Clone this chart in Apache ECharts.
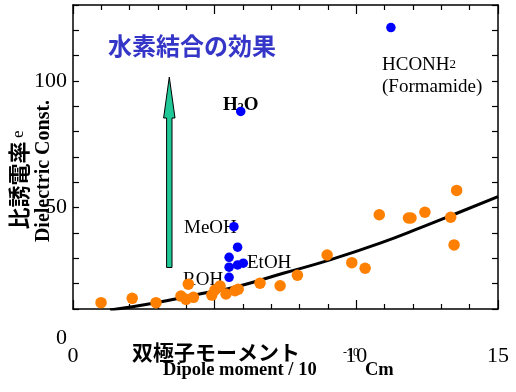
<!DOCTYPE html>
<html><head><meta charset="utf-8">
<script src="https://cdn.jsdelivr.net/npm/echarts@6/dist/echarts.min.js"></script>
<style>html,body{margin:0;padding:0;background:#fff}#c{width:516px;height:392px}</style>
</head><body><div id="c"></div>
<script>
// tick labels shown on the axes
const xTickLabels = ['0', '10', '15'];
const yTickLabels = ['50', '100'];
// hydrogen-bonding liquids (blue): [dipole moment, dielectric constant]
const hbondPoints = [
  [11.22, 121.1], [5.92, 88.0], [5.68, 42.5], [5.81, 34.4], [5.51, 30.4],
  [5.51, 26.5], [5.81, 27.4], [6.01, 28.1], [5.51, 22.5]
];
// other polar liquids (orange)
const otherPoints = [
  [0.99, 12.5], [2.09, 14.2], [2.93, 12.5], [3.81, 15.1], [3.99, 13.8],
  [4.25, 14.6], [4.07, 19.8], [4.90, 15.5], [5.01, 17.5], [5.19, 19.1],
  [5.40, 15.9], [5.72, 17.2], [5.83, 17.8], [6.60, 20.2], [7.31, 19.2],
  [7.92, 23.3], [8.97, 31.3], [9.84, 28.3], [10.31, 26.1], [10.81, 47.2],
  [11.84, 45.9], [11.93, 45.9], [12.42, 48.2], [13.33, 46.2], [13.45, 35.3],
  [13.54, 56.8]
];
// trend curve
const trendCurve = [
  [1.31, 9.6], [2.83, 12.3], [4.60, 16.2], [5.78, 18.8], [7.42, 24.1],
  [9.07, 29.4], [10.84, 36.0], [12.36, 42.5], [13.42, 47.2], [15.0, 54.4]
];

const serif = '"Liberation Serif", "Times New Roman", serif';
const cjk = '"Noto Sans CJK JP", sans-serif';

const chart = echarts.init(document.getElementById('c'), null, {renderer: 'canvas'});

const axisCommon = {
  type: 'value',
  axisLine: {show: true, onZero: false, lineStyle: {color: '#000', width: 1.5}},
  splitLine: {show: false},
  minorSplitLine: {show: false}
};

chart.setOption({
  animation: false,
  backgroundColor: '#fff',
  grid: {left: 73, right: 18, top: 5, bottom: 83},
  xAxis: [
    Object.assign({}, axisCommon, {
      min: 0, max: 15, interval: 5, position: 'bottom',
      axisTick: {inside: true, length: 9, lineStyle: {color: '#000', width: 1.2}},
      minorTick: {show: true, splitNumber: 5, length: 5, lineStyle: {color: '#000', width: 1.2}},
      axisLabel: {
        margin: 36, color: '#000', fontSize: 22, fontFamily: serif,
        formatter: v => xTickLabels.includes(String(v)) ? String(v) : ''
      }
    }),
    Object.assign({}, axisCommon, {
      min: 0, max: 15, interval: 5, position: 'top',
      axisTick: {inside: true, length: 9, lineStyle: {color: '#000', width: 1.2}},
      minorTick: {show: true, splitNumber: 5, length: 5, lineStyle: {color: '#000', width: 1.2}},
      axisLabel: {show: false}
    })
  ],
  yAxis: [
    Object.assign({}, axisCommon, {
      min: 10, max: 130, interval: 10, position: 'left',
      axisTick: {inside: true, length: 6, lineStyle: {color: '#000', width: 1.2}},
      axisLabel: {
        margin: 6, color: '#000', fontSize: 22, fontFamily: serif,
        formatter: v => yTickLabels.includes(String(v)) ? String(v) : ''
      }
    }),
    Object.assign({}, axisCommon, {
      min: 10, max: 130, interval: 10, position: 'right',
      axisTick: {inside: true, length: 6, lineStyle: {color: '#000', width: 1.2}},
      axisLabel: {show: false}
    })
  ],
  series: [
    {
      type: 'line', data: trendCurve, smooth: true, showSymbol: false, symbol: 'none',
      lineStyle: {color: '#000', width: 3}, z: 2, clip: true
    },
    {
      type: 'scatter', data: otherPoints, symbolSize: 11.5,
      itemStyle: {color: '#ff8000', opacity: 1}, z: 3
    },
    {
      type: 'scatter', data: hbondPoints, symbolSize: 9.5,
      itemStyle: {color: '#0000ff', opacity: 1}, z: 4
    }
  ],
  graphic: [
    {type: 'text', x: 108, y: 46, style: {text: '水素結合の効果', font: 'bold 24px ' + cjk, fill: '#3535c8', textAlign: 'left', textVerticalAlign: 'middle'}},
    // arrow
    {type: 'polygon', shape: {points: [[169.3, 77], [175, 118], [172, 118], [172, 267.5], [166.6, 267.5], [166.6, 118], [163.6, 118]]},
      style: {fill: '#1fc896', stroke: '#000', lineWidth: 1}},
    // y labels
    {type: 'text', x: 67, y: 338, style: {text: '0', font: '22px ' + serif, fill: '#000', textAlign: 'right', textVerticalAlign: 'middle'}},
    {type: 'text', x: 19, y: 180, rotation: Math.PI / 2,
      style: {text: '{a|比誘電率} {b|e}', textAlign: 'center', textVerticalAlign: 'middle',
        rich: {a: {font: 'bold 22px ' + cjk, fill: '#000'}, b: {font: '17px ' + serif, fill: '#000'}}}},
    {type: 'text', x: 44, y: 171, rotation: Math.PI / 2,
      style: {text: 'Dielectric Const.', font: 'bold 20px ' + serif, fill: '#000', textAlign: 'center', textVerticalAlign: 'middle'}},
    // x labels
    {type: 'text', x: 216, y: 352, style: {text: '双極子モーメント', font: 'bold 21px ' + cjk, fill: '#000', textAlign: 'center', textVerticalAlign: 'middle'}},
    {type: 'text', x: 163, y: 370, style: {text: 'Dipole moment / 10', font: 'bold 18.5px ' + serif, fill: '#000', textAlign: 'left', textVerticalAlign: 'middle'}},
    {type: 'text', x: 343, y: 353, style: {text: '-10', font: '12px ' + serif, fill: '#000', textAlign: 'left', textVerticalAlign: 'middle'}},
    {type: 'text', x: 365, y: 370, style: {text: 'Cm', font: 'bold 18.5px ' + serif, fill: '#000', textAlign: 'left', textVerticalAlign: 'middle'}},
    // point annotations
    {type: 'text', x: 223, y: 105, style: {text: '{a|H}{b|2}{a|O}', textAlign: 'left', textVerticalAlign: 'middle',
      rich: {a: {font: 'bold 19px ' + serif, fill: '#000'}, b: {font: 'bold 12px ' + serif, fill: '#000', padding: [6, 0, 0, 0]}}}},
    {type: 'text', x: 382, y: 65, style: {text: '{a|HCONH}{b|2}', textAlign: 'left', textVerticalAlign: 'middle',
      rich: {a: {font: '19px ' + serif, fill: '#000'}, b: {font: '13px ' + serif, fill: '#000'}}}},
    {type: 'text', x: 382, y: 87, style: {text: '(Formamide)', font: '19px ' + serif, fill: '#000', textAlign: 'left', textVerticalAlign: 'middle'}},
    {type: 'text', x: 184, y: 228, style: {text: 'MeOH', font: '19px ' + serif, fill: '#000', textAlign: 'left', textVerticalAlign: 'middle'}},
    {type: 'text', x: 247, y: 263, style: {text: 'EtOH', font: '19px ' + serif, fill: '#000', textAlign: 'left', textVerticalAlign: 'middle'}},
    {type: 'text', x: 183, y: 280, style: {text: 'ROH', font: '19px ' + serif, fill: '#000', textAlign: 'left', textVerticalAlign: 'middle'}}
  ]
});
</script>
</body></html>
